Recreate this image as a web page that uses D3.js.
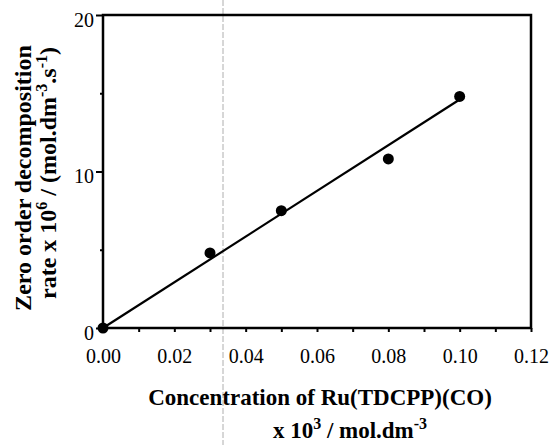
<!DOCTYPE html>
<html>
<head>
<meta charset="utf-8">
<script src="https://cdn.jsdelivr.net/npm/d3@7"></script>
<style>
body { margin: 0; background: #fff; }
svg, svg text { font-family: "Liberation Serif", "Times New Roman", serif; }
.title { font-weight: bold; font-size: 23px; }
</style>
</head>
<body>
<svg></svg>
<script>
// measured points
var conc = [0.00, 0.03, 0.05, 0.08, 0.10];
var rate = [0.0, 4.8, 7.5, 10.8, 14.8];
// fitted line end points
var fitX = [0.00, 0.10];
var fitY = [0.0, 14.6];
var xTicks = [0.00, 0.02, 0.04, 0.06, 0.08, 0.10, 0.12];
var yTicks = [0, 10, 20];

var W = 554, H = 445;
var m = {top: 15, right: 23, bottom: 117, left: 103};

var svg = d3.select("svg").attr("width", W).attr("height", H);

var x = d3.scaleLinear().domain([0, 0.12]).range([m.left, W - m.right]);
var y = d3.scaleLinear().domain([0, 20]).range([H - m.bottom, m.top]);

// scanner artefact line
svg.append("line")
    .attr("x1", 223).attr("x2", 223).attr("y1", 0).attr("y2", H)
    .attr("stroke", "#999").attr("stroke-width", 0.8)
    .attr("stroke-dasharray", "6,2");

// frame
svg.append("rect")
    .attr("x", x(0)).attr("y", y(20))
    .attr("width", x(0.12) - x(0)).attr("height", y(0) - y(20))
    .attr("fill", "none").attr("stroke", "#000").attr("stroke-width", 2.5);

// x axis
var xa = svg.append("g")
    .attr("transform", "translate(0," + y(0) + ")")
    .call(d3.axisBottom(x).tickValues(d3.range(0, 0.1201, 0.01)).tickSize(4)
      .tickFormat(d => xTicks.some(t => Math.abs(t - d) < 1e-9) ? d3.format(".2f")(d) : ""));
xa.attr("font-family", "Liberation Serif").attr("font-size", 20);
xa.select(".domain").remove();
xa.selectAll(".tick line").attr("stroke-width", 2);
xa.selectAll(".tick text").attr("y", 35).attr("dy", 0);

// y axis
var ya = svg.append("g")
    .attr("transform", "translate(" + x(0) + ",0)")
    .call(d3.axisLeft(y).tickValues([0, 5, 10, 15, 20]).tickSize(5)
      .tickFormat(d => yTicks.indexOf(d) >= 0 ? d : ""));
ya.attr("font-family", "Liberation Serif").attr("font-size", 20);
ya.select(".domain").remove();
ya.selectAll(".tick line").attr("stroke-width", 2)
    .attr("x2", d => yTicks.indexOf(d) >= 0 ? -7 : -3);
ya.selectAll(".tick text").attr("x", -9).attr("dy", "0.55em");

// fit line
svg.append("path")
    .datum(fitX.map((d, i) => [d, fitY[i]]))
    .attr("d", d3.line().x(d => x(d[0])).y(d => y(d[1])))
    .attr("stroke", "#000").attr("stroke-width", 2.2).attr("fill", "none");

// points
svg.selectAll("circle.pt")
    .data(conc.map((d, i) => [d, rate[i]]))
  .enter().append("circle")
    .attr("class", "pt")
    .attr("cx", d => x(d[0])).attr("cy", d => y(d[1]))
    .attr("r", 5.5).attr("fill", "#000");

// x title
svg.append("text").attr("class", "title")
    .attr("x", 320).attr("y", 405).attr("text-anchor", "middle")
    .text("Concentration of Ru(TDCPP)(CO)");
var t2 = svg.append("text").attr("class", "title")
    .attr("x", 350).attr("y", 438).attr("text-anchor", "middle");
t2.append("tspan").text("x 10");
t2.append("tspan").attr("dy", -9).attr("font-size", 16).text("3");
t2.append("tspan").attr("dy", 9).text(" / mol.dm");
t2.append("tspan").attr("dy", -9).attr("font-size", 16).text("-3");

// y title
var yt = svg.append("g").attr("transform", "translate(0,178) rotate(-90)");
yt.append("text").attr("class", "title").style("font-size", "24px")
    .attr("x", 0).attr("y", 31).attr("text-anchor", "middle")
    .text("Zero order decomposition");
var yl2 = yt.append("text").attr("class", "title").style("font-size", "24px")
    .attr("x", 5).attr("y", 56).attr("text-anchor", "middle");
yl2.append("tspan").text("rate x 10");
yl2.append("tspan").attr("dy", -9).attr("font-size", 16).text("6");
yl2.append("tspan").attr("dy", 9).text(" / (mol.dm");
yl2.append("tspan").attr("dy", -9).attr("font-size", 16).text("-3");
yl2.append("tspan").attr("dy", 9).text(".s");
yl2.append("tspan").attr("dy", -9).attr("font-size", 16).text("-1");
yl2.append("tspan").attr("dy", 9).text(")");
</script>
</body>
</html>
